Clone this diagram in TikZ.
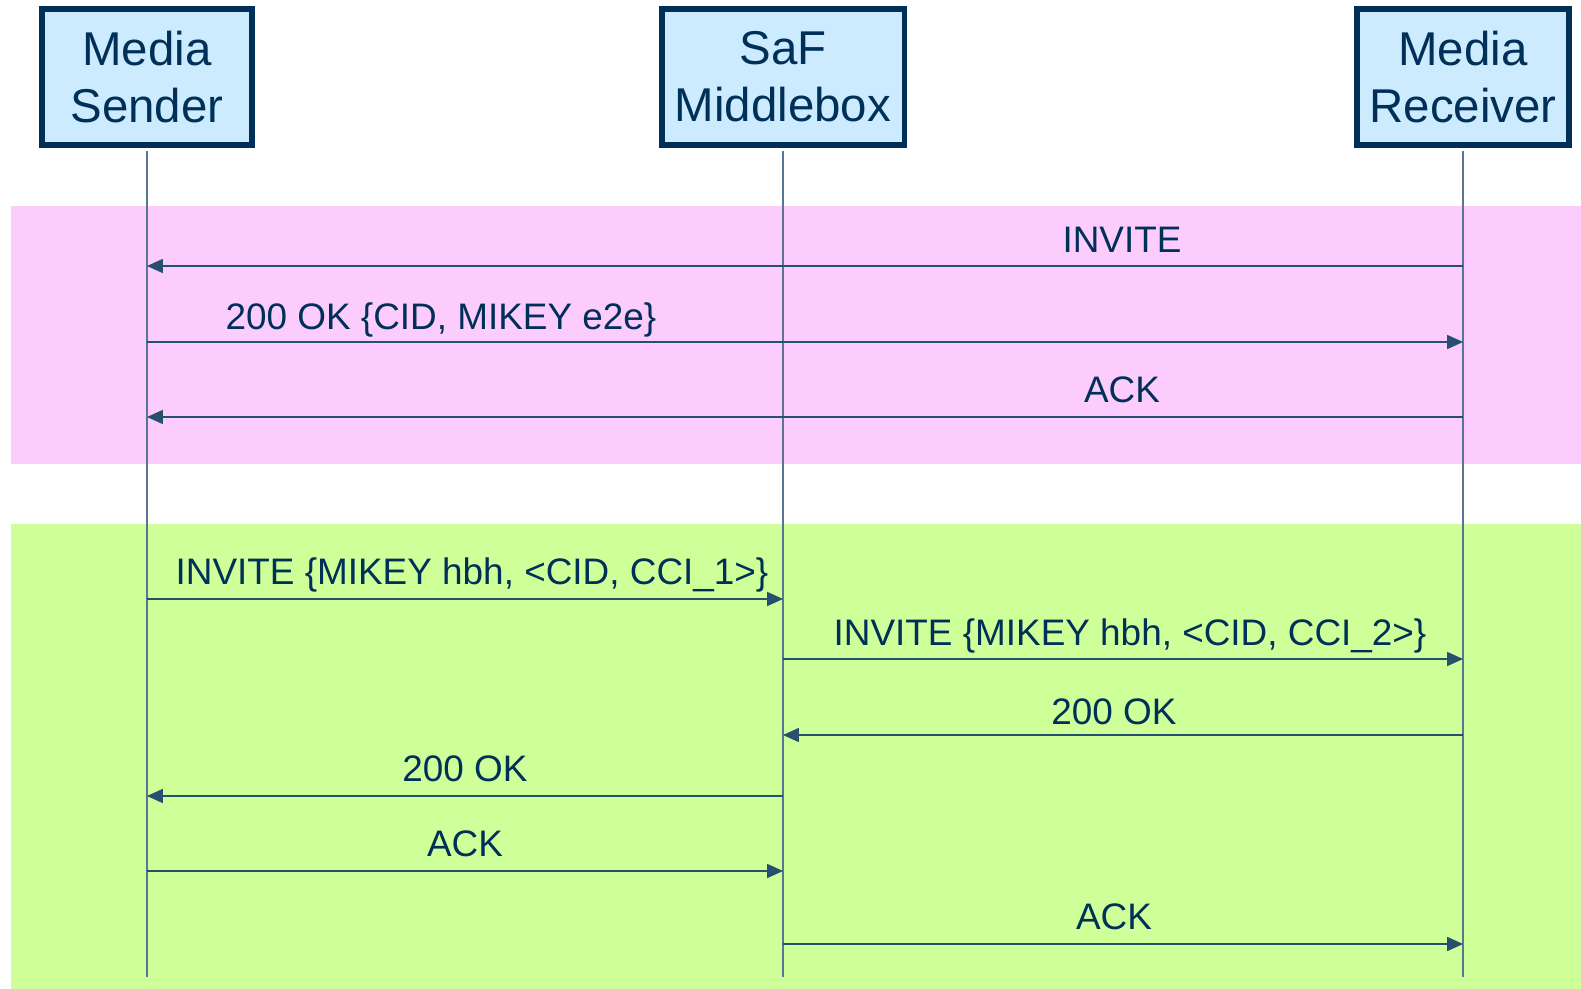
\documentclass[tikz,border=0pt]{standalone}
\usepackage{fontspec}
\setmainfont{Liberation Sans}
\usetikzlibrary{arrows.meta}

\definecolor{navy}{RGB}{0,48,87}
\definecolor{boxblue}{RGB}{204,235,255}
\definecolor{bandpink}{RGB}{252,204,252}
\definecolor{bandgreen}{RGB}{207,255,153}
\definecolor{lifegray}{RGB}{88,118,148}

\begin{document}
\begin{tikzpicture}[x=0.02cm, y=-0.02cm,
    entity/.style={draw=navy, line width=3.4pt, fill=boxblue, text=navy, align=center,
        font=\fontsize{27}{32.5}\selectfont, minimum height=2.72cm, inner sep=0pt},
    msg/.style={text=navy, font=\fontsize{21}{25}\selectfont, anchor=base, inner sep=0pt},
    life/.style={draw=lifegray, line width=0.8pt, shorten <=1.7pt},
    call/.style={draw=navy!85, line width=0.6pt, -{Triangle[length=9pt, width=8pt]}}]

    \useasboundingbox (0,0) rectangle (1581,989);

    % phases
    \fill[bandpink] (11,206) rectangle (1581,464);
    \fill[bandgreen] (11,524) rectangle (1581,989);

    % participants
    \node[entity, minimum width=4.2cm] (sender) at (147,77) {Media\\Sender};
    \node[entity, minimum width=4.86cm] (saf) at (783,77) {SaF\\Middlebox};
    \node[entity, minimum width=4.24cm] (receiver) at (1463,77) {Media\\Receiver};

    \coordinate (sender end) at (147,977);
    \coordinate (saf end) at (783,977);
    \coordinate (receiver end) at (1463,977);
    \draw[life] (sender) -- (sender end);
    \draw[life] (saf) -- (saf end);
    \draw[life] (receiver) -- (receiver end);

    % one row per message
    \foreach \row/\y in {1/266, 2/342, 3/417, 4/599, 5/659, 6/735, 7/796, 8/871, 9/944} {
        \coordinate (s\row) at (sender |- 0,\y);
        \coordinate (m\row) at (saf |- 0,\y);
        \coordinate (r\row) at (receiver |- 0,\y);
    }

    % end-to-end keying
    \draw[call] (r1) -- (s1);
    \node[msg] (invite e2e) at (1122,253) {INVITE};
    \draw[call] (s2) -- (r2);
    \node[msg] (ok e2e) at (441,330) {200 OK \{CID, MIKEY e2e\}};
    \draw[call] (r3) -- (s3);
    \node[msg] (ack e2e) at (1122,403) {ACK};

    % hop-by-hop keying
    \draw[call] (s4) -- (m4);
    \node[msg] (invite hop1) at (472,584) {INVITE \{MIKEY hbh, <CID, CCI\_1>\}};
    \draw[call] (m5) -- (r5);
    \node[msg] (invite hop2) at (1130,645) {INVITE \{MIKEY hbh, <CID, CCI\_2>\}};
    \draw[call] (r6) -- (m6);
    \node[msg] (ok hop2) at (1114,724) {200 OK};
    \draw[call] (m7) -- (s7);
    \node[msg] (ok hop1) at (465,781) {200 OK};
    \draw[call] (s8) -- (m8);
    \node[msg] (ack hop1) at (465,856) {ACK};
    \draw[call] (m9) -- (r9);
    \node[msg] (ack hop2) at (1114,929) {ACK};
\end{tikzpicture}
\end{document}
